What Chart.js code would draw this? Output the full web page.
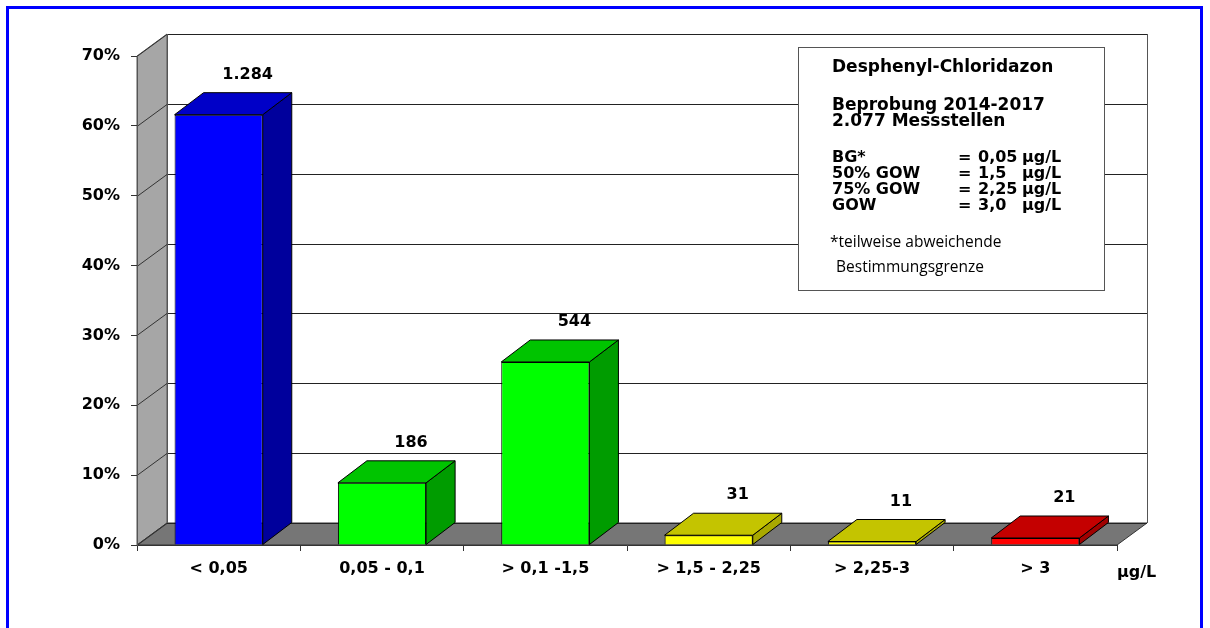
<!DOCTYPE html>
<html>
<head>
<meta charset="utf-8">
<script src="https://cdn.jsdelivr.net/npm/chart.js@4/dist/chart.umd.min.js"></script>
<style>
  body { margin: 0; background: #fff; }
  canvas { display: block; }
</style>
</head>
<body>
<canvas id="myChart" width="1210" height="628"></canvas>
<script>
// Data
var categories = ['< 0,05', '0,05 - 0,1', '> 0,1 -1,5', '> 1,5 - 2,25', '> 2,25-3', '> 3'];
var shares = [61.6, 8.9, 26.2, 1.4, 0.5, 1.0];      // % of Messstellen
var counts = [1284, 186, 544, 31, 11, 21];          // labels above bars
var yMax = 70;
var yStep = 10;
var unitLabel = 'µg/L';

var infoTitle = 'Desphenyl-Chloridazon';
var infoSub = ['Beprobung 2014-2017', '2.077 Messstellen'];
var infoNames = ['BG*', '50% GOW', '75% GOW', 'GOW'];
var infoValues = ['0,05', '1,5', '2,25', '3,0'];
var infoNote = ['*teilweise abweichende', ' Bestimmungsgrenze'];

// colours: front / top / side
var frontColors = ['#0000FF', '#00FF00', '#00FF00', '#FFFF00', '#FFFF00', '#FF0000'];
var topColors = ['#0000C8', '#00C400', '#00C400', '#C4C400', '#C4C400', '#C40000'];
var sideColors = ['#00009C', '#009C00', '#009C00', '#A8A800', '#A8A800', '#A00000'];

var depthX = 29;
var depthY = -22;
var boldFont = 'bold 16px "DejaVu Sans"';

function fmtCount(n) {
  var s = String(n);
  if (s.length > 3) s = s.slice(0, s.length - 3) + '.' + s.slice(s.length - 3);
  return s;
}

function poly(ctx, pts, fill, stroke) {
  ctx.beginPath();
  ctx.moveTo(pts[0][0], pts[0][1]);
  for (var i = 1; i < pts.length; i++) ctx.lineTo(pts[i][0], pts[i][1]);
  ctx.closePath();
  if (fill) { ctx.fillStyle = fill; ctx.fill(); }
  if (stroke) { ctx.strokeStyle = stroke; ctx.lineWidth = 1; ctx.stroke(); }
}

function line(ctx, x1, y1, x2, y2, color) {
  ctx.beginPath();
  ctx.moveTo(x1, y1);
  ctx.lineTo(x2, y2);
  ctx.strokeStyle = color;
  ctx.lineWidth = 1;
  ctx.stroke();
}

// 3D walls, floor, bar sides/tops and the text box
var threeD = {
  id: 'threeD',
  beforeDraw: function (chart) {
    var ctx = chart.ctx;
    var xs = chart.scales.x, ys = chart.scales.y;
    var L = xs.left, R = xs.right, B = ys.bottom, T = ys.top;
    var wx = depthX + 1;
    ctx.save();
    ctx.fillStyle = '#fff';
    ctx.fillRect(0, 0, chart.width, chart.height);

    // blue frame
    ctx.strokeStyle = '#0000FF';
    ctx.lineWidth = 3;
    ctx.strokeRect(7.5, 7.5, 1194, 640);

    // left wall
    poly(ctx, [[L, B], [L, T], [L + wx, T + depthY], [L + wx, B + depthY]], '#A6A6A6', '#555');
    // floor
    poly(ctx, [[L, B], [R, B], [R + wx, B + depthY], [L + wx, B + depthY]], '#767676', '#333');

    // back wall grid
    for (var v = 0; v <= yMax; v += yStep) {
      var py = Math.round(ys.getPixelForValue(v)) + 0.5;
      line(ctx, L + wx, py + depthY, R + wx, py + depthY, '#222');
      line(ctx, L, py, L + wx, py + depthY, '#333');
    }
    line(ctx, L + wx + 0.5, T + depthY, L + wx + 0.5, B + depthY, '#555');
    line(ctx, R + wx + 0.5, T + depthY, R + wx + 0.5, B + depthY, '#555');
    ctx.restore();
  },
  afterDatasetsDraw: function (chart) {
    var ctx = chart.ctx;
    var meta = chart.getDatasetMeta(0);
    ctx.save();
    meta.data.forEach(function (bar, i) {
      var p = bar.getProps(['x', 'y', 'base', 'width'], true);
      var l = p.x - p.width / 2, r = p.x + p.width / 2;
      var top = p.y, base = p.base;
      poly(ctx, [[r, top], [r + depthX, top + depthY], [r + depthX, base + depthY], [r, base]], sideColors[i], '#000');
      poly(ctx, [[l, top], [l + depthX, top + depthY], [r + depthX, top + depthY], [r, top]], topColors[i], '#000');

      ctx.fillStyle = '#000';
      ctx.font = boldFont;
      ctx.textAlign = 'center';
      ctx.textBaseline = 'middle';
      ctx.fillText(fmtCount(counts[i]), p.x + depthX, top + depthY - 18);
    });
    ctx.restore();
  },
  afterDraw: function (chart) {
    var ctx = chart.ctx;
    var xs = chart.scales.x;
    ctx.save();
    ctx.fillStyle = '#000';
    ctx.font = boldFont;
    ctx.textBaseline = 'middle';
    ctx.textAlign = 'left';
    ctx.fillText(unitLabel, xs.right + 0, 573);

    // info box
    ctx.fillStyle = '#fff';
    ctx.fillRect(798, 47, 307, 244);
    ctx.strokeStyle = '#555';
    ctx.lineWidth = 1;
    ctx.strokeRect(798.5, 47.5, 306, 243);

    ctx.fillStyle = '#000';
    ctx.font = 'bold 17px "DejaVu Sans"';
    ctx.fillText(infoTitle, 832, 68);
    ctx.fillText(infoSub[0], 832, 106);
    ctx.fillText(infoSub[1], 832, 122);
    ctx.font = boldFont;
    var rows = [158, 174, 190, 206];
    for (var i = 0; i < infoNames.length; i++) {
      ctx.fillText(infoNames[i], 832, rows[i]);
      ctx.fillText('=', 958, rows[i]);
      ctx.fillText(infoValues[i], 978, rows[i]);
      ctx.fillText(unitLabel, 1022, rows[i]);
    }
    ctx.font = '15.5px "Open Sans"';
    ctx.fillText(infoNote[0], 830, 243);
    ctx.fillText(infoNote[1], 832, 268);
    ctx.restore();
  }
};

Chart.defaults.font.family = '"DejaVu Sans"';
Chart.defaults.font.size = 16;
Chart.defaults.font.weight = 'bold';
Chart.defaults.color = '#000';

var ctx = document.getElementById('myChart').getContext('2d');

var data = {
  labels: categories,
  datasets: [
    {
      data: shares,
      backgroundColor: frontColors,
      borderColor: '#000',
      borderWidth: 1,
      barPercentage: 0.54,
      categoryPercentage: 1.0,
    },
  ],
};

var options = {
  responsive: false,
  animation: false,
  layout: { padding: { top: 56, right: 93, left: 0, bottom: 0 } },
  plugins: { legend: { display: false }, tooltip: { enabled: false } },
  scales: {
    x: {
      afterFit: function (s) { s.height = 83; },
      grid: { drawOnChartArea: false, offset: true, tickLength: 6, color: '#333' },
      border: { color: '#333' },
      ticks: { padding: 8 },
    },
    y: {
      min: 0,
      max: yMax,
      afterFit: function (s) { s.width = 137; },
      grid: { drawOnChartArea: false, tickLength: 6, color: '#333' },
      border: { color: '#555' },
      ticks: { stepSize: yStep, padding: 11, callback: function (v) { return v + '%'; } },
    },
  },
};

var myChart = new Chart(ctx, {
  type: 'bar',
  data: data,
  options: options,
  plugins: [threeD],
});
</script>
</body>
</html>
